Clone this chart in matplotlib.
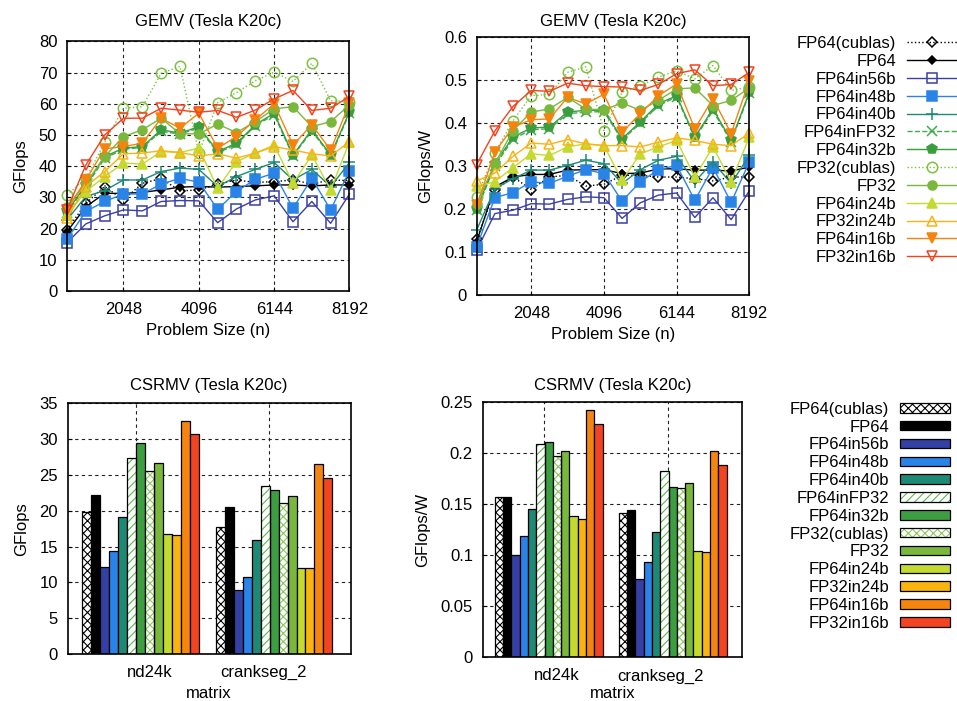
import matplotlib
matplotlib.use('Agg')
import matplotlib.pyplot as plt
from matplotlib.legend_handler import HandlerTuple
import numpy as np

plt.rcParams['font.family'] = ['Liberation Sans', 'DejaVu Sans']
plt.rcParams['font.size'] = 12
plt.rcParams['hatch.linewidth'] = 0.8

# --- dati ---------------------------------------------------------------
names = ['FP64(cublas)', 'FP64', 'FP64in56b', 'FP64in48b', 'FP64in40b', 'FP64inFP32',
         'FP64in32b', 'FP32(cublas)', 'FP32', 'FP64in24b', 'FP32in24b', 'FP64in16b', 'FP32in16b']

problem_size = [512, 1024, 1536, 2048, 2560, 3072, 3584, 4096,
                4608, 5120, 5632, 6144, 6656, 7168, 7680, 8192]

# GEMV GFlops
gemv_fp64_cublas = [19.6, 28.1, 33.5, 29.2, 34.5, 36.1, 32.1, 32.4, 34.3, 35.6, 34.8, 35.1, 35.6, 34.3, 35.6, 35.4]
gemv_fp64 = [19.0, 27.0, 31.3, 31.3, 31.6, 32.4, 33.3, 33.5, 33.3, 33.5, 33.7, 34.0, 34.0, 33.7, 34.0, 34.0]
gemv_fp64in56b = [15.5, 21.5, 24.1, 26.0, 25.7, 28.7, 29.0, 28.9, 21.9, 26.3, 29.2, 30.5, 22.2, 28.7, 21.7, 31.1]
gemv_fp64in48b = [16.6, 25.5, 28.7, 31.1, 31.1, 34.3, 36.1, 34.9, 26.2, 31.9, 35.8, 37.8, 26.5, 36.1, 26.0, 38.6]
gemv_fp64in40b = [22.8, 30.3, 32.2, 35.6, 35.6, 38.3, 39.4, 39.0, 33.5, 36.7, 39.0, 41.2, 35.6, 39.0, 33.5, 41.2]
gemv_fp64infp32 = [25.0, 33.5, 42.5, 45.5, 46.0, 51.2, 50.3, 52.3, 44.3, 47.0, 53.0, 56.5, 43.3, 51.3, 43.3, 57.0]
gemv_fp64in32b = [25.5, 34.0, 43.1, 45.8, 46.3, 51.7, 50.6, 52.7, 44.7, 47.4, 53.3, 57.0, 43.6, 51.7, 43.6, 57.5]
gemv_fp32_cublas = [30.8, 36.0, 47.7, 58.6, 59.1, 69.8, 72.0, 44.2, 60.4, 63.6, 67.4, 70.2, 67.2, 73.0, 61.0, 60.7]
gemv_fp32 = [27.0, 34.5, 43.1, 49.5, 51.7, 55.4, 50.4, 50.4, 53.5, 50.8, 54.3, 58.4, 59.1, 52.7, 54.3, 59.7]
gemv_fp64in24b = [24.4, 31.9, 36.7, 41.0, 40.7, 44.7, 44.4, 45.8, 32.9, 41.5, 44.2, 46.8, 34.5, 43.6, 32.4, 47.9]
gemv_fp32in24b = [23.3, 33.5, 38.3, 44.0, 44.2, 45.0, 44.4, 43.3, 44.0, 42.6, 44.2, 46.3, 45.2, 44.0, 43.3, 47.9]
gemv_fp64in16b = [26.0, 35.6, 45.6, 46.3, 47.4, 55.4, 52.2, 57.0, 45.8, 49.5, 54.9, 60.0, 46.8, 53.3, 45.2, 60.2]
gemv_fp32in16b = [26.0, 40.4, 50.0, 55.4, 55.4, 58.6, 58.0, 57.3, 57.9, 55.7, 58.0, 61.6, 64.3, 57.9, 58.6, 62.4]

# GEMV GFlops/W
gemvw_fp64_cublas = [0.129, 0.243, 0.274, 0.245, 0.274, 0.278, 0.253, 0.257, 0.278, 0.278, 0.274, 0.274, 0.270, 0.265, 0.274, 0.274]
gemvw_fp64 = [0.124, 0.251, 0.274, 0.280, 0.280, 0.290, 0.291, 0.291, 0.282, 0.283, 0.293, 0.293, 0.290, 0.290, 0.288, 0.297]
gemvw_fp64in56b = [0.104, 0.189, 0.197, 0.212, 0.211, 0.222, 0.228, 0.226, 0.178, 0.214, 0.232, 0.237, 0.180, 0.226, 0.175, 0.242]
gemvw_fp64in48b = [0.112, 0.226, 0.238, 0.263, 0.259, 0.276, 0.291, 0.282, 0.218, 0.263, 0.291, 0.301, 0.220, 0.296, 0.215, 0.309]
gemvw_fp64in40b = [0.151, 0.247, 0.270, 0.290, 0.290, 0.301, 0.313, 0.305, 0.259, 0.291, 0.313, 0.322, 0.263, 0.309, 0.259, 0.324]
gemvw_fp64infp32 = [0.197, 0.300, 0.362, 0.384, 0.386, 0.421, 0.425, 0.426, 0.360, 0.399, 0.440, 0.460, 0.364, 0.428, 0.356, 0.468]
gemvw_fp64in32b = [0.200, 0.305, 0.367, 0.388, 0.390, 0.425, 0.429, 0.429, 0.363, 0.402, 0.444, 0.463, 0.367, 0.432, 0.359, 0.471]
gemvw_fp32_cublas = [0.228, 0.330, 0.405, 0.463, 0.466, 0.517, 0.530, 0.382, 0.471, 0.486, 0.506, 0.521, 0.502, 0.533, 0.475, 0.483]
gemvw_fp32 = [0.212, 0.305, 0.382, 0.425, 0.432, 0.459, 0.432, 0.430, 0.446, 0.429, 0.452, 0.479, 0.481, 0.440, 0.452, 0.481]
gemvw_fp64in24b = [0.252, 0.263, 0.296, 0.328, 0.324, 0.344, 0.351, 0.347, 0.266, 0.328, 0.344, 0.359, 0.274, 0.344, 0.263, 0.367]
gemvw_fp32in24b = [0.265, 0.283, 0.322, 0.353, 0.350, 0.361, 0.351, 0.347, 0.347, 0.344, 0.355, 0.365, 0.359, 0.350, 0.347, 0.376]
gemvw_fp64in16b = [0.208, 0.332, 0.390, 0.407, 0.409, 0.459, 0.444, 0.466, 0.378, 0.421, 0.463, 0.490, 0.386, 0.456, 0.375, 0.498]
gemvw_fp32in16b = [0.303, 0.381, 0.438, 0.475, 0.473, 0.492, 0.486, 0.484, 0.483, 0.475, 0.489, 0.514, 0.523, 0.486, 0.489, 0.517]

# CSRMV, un valore per ogni versione (stesso ordine di names)
matrices = ['nd24k', 'crankseg_2']
csr_gflops_nd24k = [19.8, 22.2, 12.2, 14.4, 19.1, 27.3, 29.4, 25.6, 26.6, 16.7, 16.6, 32.5, 30.7]
csr_gflops_crankseg = [17.7, 20.5, 9.0, 10.7, 15.9, 23.4, 22.9, 21.1, 22.0, 12.0, 12.0, 26.5, 24.6]
csr_gpw_nd24k = [0.157, 0.157, 0.100, 0.119, 0.145, 0.209, 0.211, 0.197, 0.202, 0.138, 0.135, 0.2415, 0.228]
csr_gpw_crankseg = [0.141, 0.144, 0.077, 0.093, 0.123, 0.1825, 0.167, 0.166, 0.170, 0.104, 0.1027, 0.2017, 0.188]

gemv_gflops = [gemv_fp64_cublas, gemv_fp64, gemv_fp64in56b, gemv_fp64in48b, gemv_fp64in40b, gemv_fp64infp32,
               gemv_fp64in32b, gemv_fp32_cublas, gemv_fp32, gemv_fp64in24b, gemv_fp32in24b, gemv_fp64in16b, gemv_fp32in16b]
gemv_gpw = [gemvw_fp64_cublas, gemvw_fp64, gemvw_fp64in56b, gemvw_fp64in48b, gemvw_fp64in40b, gemvw_fp64infp32,
            gemvw_fp64in32b, gemvw_fp32_cublas, gemvw_fp32, gemvw_fp64in24b, gemvw_fp32in24b, gemvw_fp64in16b, gemvw_fp32in16b]

# --- stili ----------------------------------------------------------------
# (colore, marker, linestyle, marker pieno?, dimensione)
line_styles = [
    ('black', 'D', ':', False, 5.5),
    ('black', 'D', '-', True, 4),
    ('#3b3fa6', 's', '-', False, 6.5),
    ('#2a84e8', 's', '-', True, 6.5),
    ('#1d8a76', '+', '-', True, 8),
    ('#3fae4a', 'x', '--', True, 7),
    ('#3a9e3e', 'p', '-', True, 7.5),
    ('#7cc142', 'o', ':', False, 7.5),
    ('#79b83d', 'o', '-', True, 6.5),
    ('#c5da30', '^', '-', True, 7),
    ('#f9b414', '^', '-', False, 7),
    ('#f5840e', 'v', '-', True, 7),
    ('#f2431f', 'v', '-', False, 7),
]

# (colore pieno, colore tratteggio, hatch)
bar_styles = [
    ('white', 'black', 'xxxx'),
    ('black', None, None),
    ('#3540a5', None, None),
    ('#2a84e8', None, None),
    ('#1d8a76', None, None),
    ('white', '#5ab94a', '////'),
    ('#3c9e41', None, None),
    ('white', '#8cc85a', 'xxxx'),
    ('#7ab83c', None, None),
    ('#c5da30', None, None),
    ('#f9b410', None, None),
    ('#f5850f', None, None),
    ('#f24420', None, None),
]

grid_kw = dict(color='#222222', linestyle=(0, (3, 3)), linewidth=0.8)


def style_axes(ax):
    for s in ax.spines.values():
        s.set_linewidth(1.2)
    ax.tick_params(direction='in', length=3, width=0.8, top=False, right=False)
    ax.grid(True, which='major', **grid_kw)
    ax.set_axisbelow(True)


def gemv_plot(ax, series, ylim, yticks, ylabels, ylabel, title, pad):
    lines = []
    for vals, (c, m, ls, filled, ms) in zip(series, line_styles):
        l, = ax.plot(problem_size, vals, color=c, marker=m, linestyle=ls, linewidth=1.0,
                     markersize=ms, markerfacecolor=c if filled else 'none',
                     markeredgecolor=c, markeredgewidth=1.1, clip_on=False)
        lines.append(l)
    ax.set_xlim(512, 8192)
    ax.set_ylim(*ylim)
    ax.set_xticks([2048, 4096, 6144, 8192])
    ax.set_yticks(yticks)
    ax.set_yticklabels(ylabels)
    ax.set_xlabel('Problem Size (n)', labelpad=4.5)
    ax.set_ylabel(ylabel, labelpad=7.5)
    ax.set_title(title, pad=pad, fontsize=12)
    style_axes(ax)
    ax.tick_params(axis='x', pad=8)
    ax.tick_params(axis='y', pad=7)
    return lines


def csr_plot(ax, first, second, ylim, yticks, ylabels, ylabel, title, pad, xlim, lbl_shift, xlabelpad):
    w = 0.067
    handles = []
    for i, (c, hc, h) in enumerate(bar_styles):
        x = np.array([0, 1]) + 0.035 + (i - 6) * w
        vals = [first[i], second[i]]
        if h is None:
            b = ax.bar(x, vals, w, color=c, edgecolor='black', linewidth=0.9, zorder=2)
            handles.append(b)
        else:
            b1 = ax.bar(x, vals, w, color=c, edgecolor=hc, hatch=h, linewidth=0, zorder=2)
            b2 = ax.bar(x, vals, w, facecolor='none', edgecolor='black', linewidth=0.9, zorder=3)
            handles.append((b1, b2))
    ax.set_xlim(*xlim)
    ax.set_ylim(*ylim)
    # griglia sui tick maggiori, etichette (allineate a destra come in gnuplot) sui minori
    ax.set_xticks([0, 1])
    ax.set_xticklabels(['', ''])
    ax.set_xticks([lbl_shift, 1 + lbl_shift], matrices, minor=True, ha='right')
    ax.set_yticks(yticks)
    ax.set_yticklabels(ylabels)
    ax.set_xlabel('matrix', labelpad=xlabelpad)
    ax.set_ylabel(ylabel, labelpad=7.5)
    ax.set_title(title, pad=pad, fontsize=12)
    style_axes(ax)
    ax.tick_params(axis='x', which='both', pad=8, length=0)
    ax.tick_params(axis='y', pad=7)
    return handles


fig = plt.figure(figsize=(9.57, 7.01), dpi=100)

ax1 = fig.add_axes([0.0700, 0.5849, 0.2952, 0.3559])
ax2 = fig.add_axes([0.4981, 0.5792, 0.2849, 0.3685])
ax3 = fig.add_axes([0.0707, 0.0670, 0.2958, 0.3577])
ax4 = fig.add_axes([0.5044, 0.0623, 0.2713, 0.3647])

gemv_plot(ax1, gemv_gflops, (0, 80), range(0, 81, 10), [str(v) for v in range(0, 81, 10)],
          'GFlops', 'GEMV (Tesla K20c)', 11)
lines = gemv_plot(ax2, gemv_gpw, (0, 0.6), [0, 0.1, 0.2, 0.3, 0.4, 0.5, 0.6],
                  ['0', '0.1', '0.2', '0.3', '0.4', '0.5', '0.6'],
                  'GFlops/W', 'GEMV (Tesla K20c)', 8)

csr_plot(ax3, csr_gflops_nd24k, csr_gflops_crankseg, (0, 35), range(0, 36, 5),
         [str(v) for v in range(0, 36, 5)], 'GFlops', 'CSRMV (Tesla K20c)', 9.5,
         (-0.509, 1.608), 0.277, 4)
bars = csr_plot(ax4, csr_gpw_nd24k, csr_gpw_crankseg, (0, 0.25), [0, 0.05, 0.1, 0.15, 0.2, 0.25],
                ['0', '0.05', '0.1', '0.15', '0.2', '0.25'], 'GFlops/W', 'CSRMV (Tesla K20c)', 8.5,
                (-0.497, 1.597), 0.288, 1.5)

fig.legend(lines, names, loc='upper right', bbox_to_anchor=(1.0, 0.9486), markerfirst=False,
           frameon=False, borderpad=0, borderaxespad=0, handlelength=3.0, handletextpad=0.65,
           labelspacing=0.17, fontsize=12)
fig.legend(bars, names, loc='upper right', bbox_to_anchor=(0.9927, 0.427), markerfirst=False,
           frameon=False, borderpad=0, borderaxespad=0, handlelength=3.0, handleheight=0.5,
           handletextpad=0.65, labelspacing=0.17, fontsize=12,
           handler_map={tuple: HandlerTuple(ndivide=1, pad=0)})

fig.savefig('out.png', dpi=100)
